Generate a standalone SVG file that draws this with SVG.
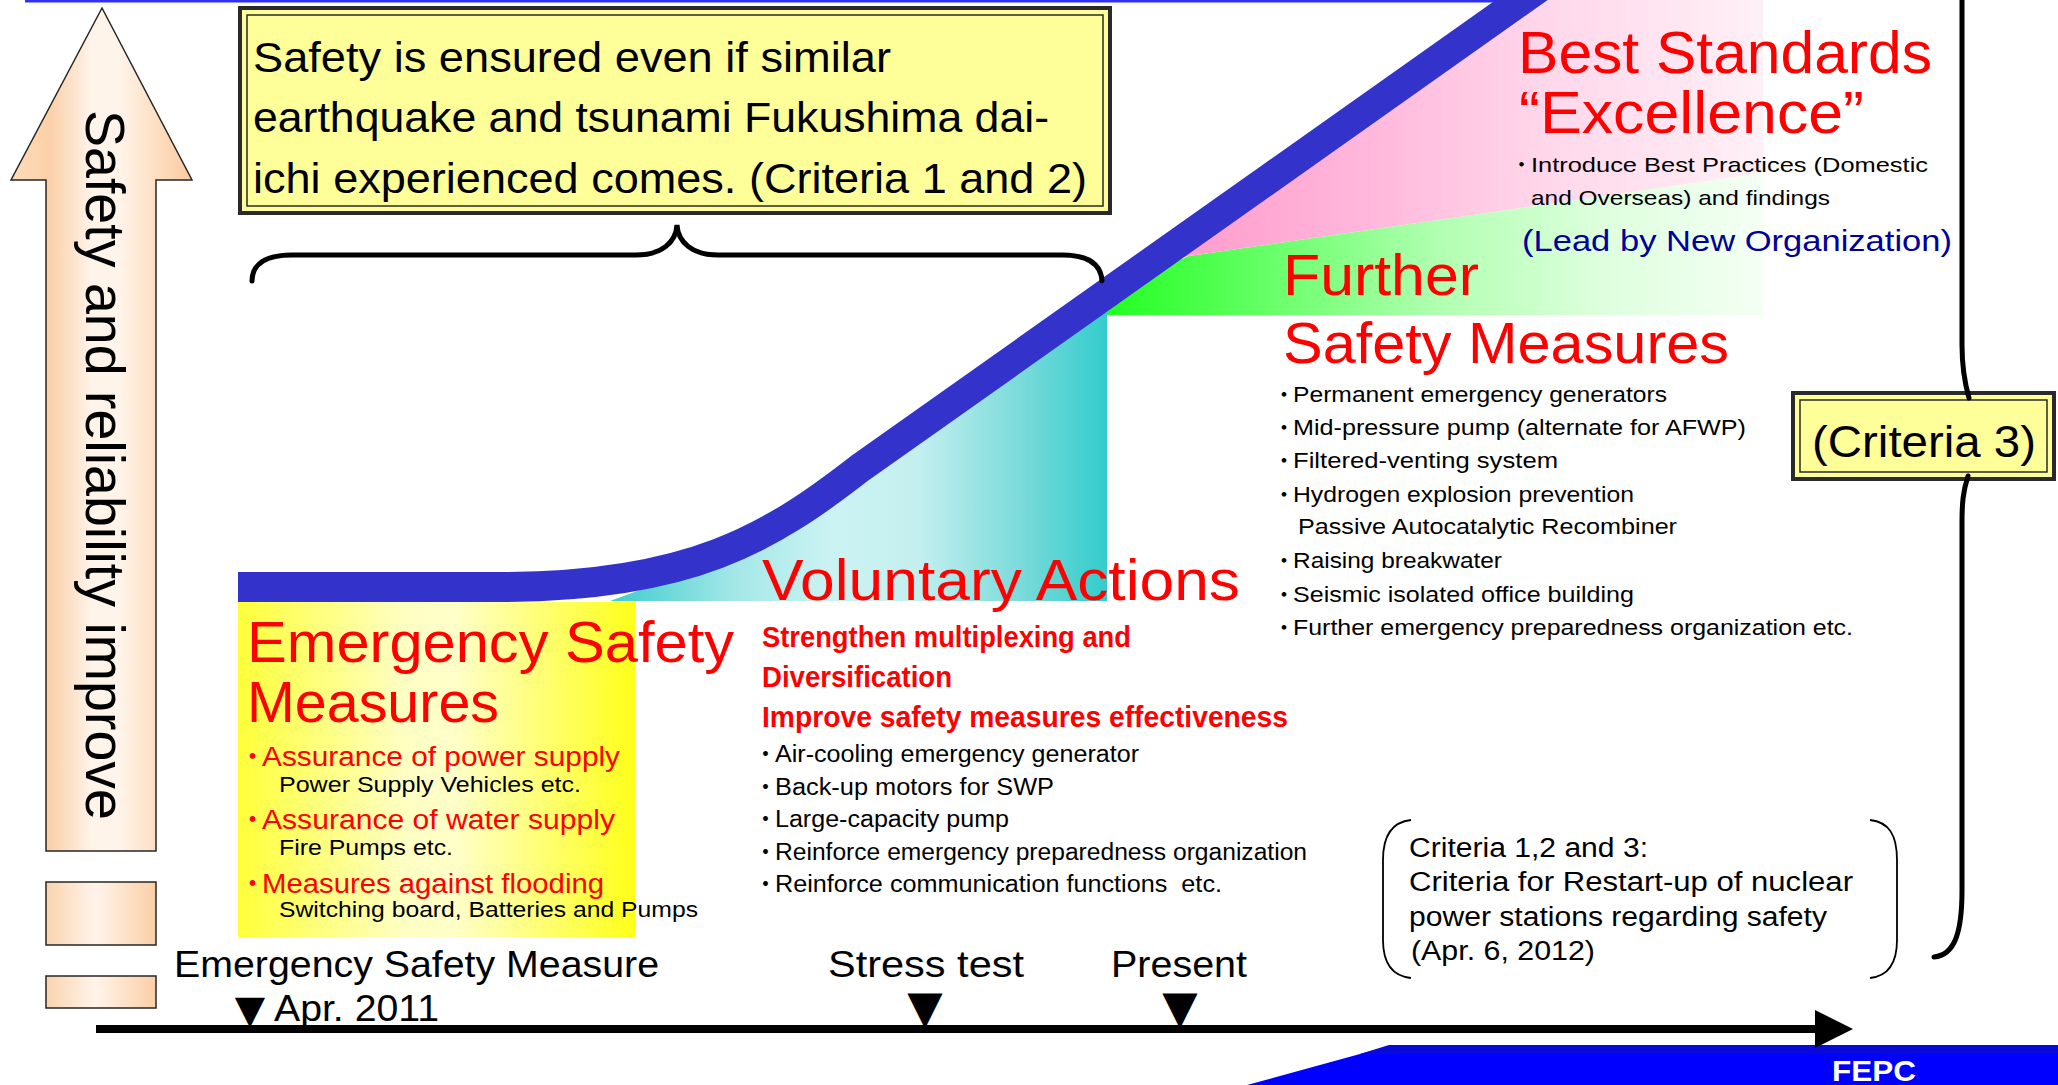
<svg xmlns="http://www.w3.org/2000/svg" width="2058" height="1085" viewBox="0 0 2058 1085">
<defs>
  <linearGradient id="gArrow" gradientUnits="userSpaceOnUse" x1="10" y1="0" x2="192" y2="0">
    <stop offset="0" stop-color="#FDDCBC"/>
    <stop offset="0.22" stop-color="#FBD0A8"/>
    <stop offset="0.45" stop-color="#FFF4EA"/>
    <stop offset="0.6" stop-color="#FFF4EA"/>
    <stop offset="0.88" stop-color="#FCD6B3"/>
    <stop offset="1" stop-color="#FBCB9F"/>
  </linearGradient>
  <linearGradient id="gRect" x1="0" y1="0" x2="1" y2="0">
    <stop offset="0" stop-color="#FBD3AE"/>
    <stop offset="0.45" stop-color="#FFF4EA"/>
    <stop offset="1" stop-color="#FBCFA6"/>
  </linearGradient>
  <linearGradient id="gYellow" gradientUnits="userSpaceOnUse" x1="238" y1="0" x2="635" y2="0">
    <stop offset="0" stop-color="#FFFF3A"/>
    <stop offset="0.42" stop-color="#FFFFC4"/>
    <stop offset="0.55" stop-color="#FFFFC8"/>
    <stop offset="1" stop-color="#FFFF1A"/>
  </linearGradient>
  <linearGradient id="gCyan" gradientUnits="userSpaceOnUse" x1="610" y1="0" x2="1107" y2="0">
    <stop offset="0" stop-color="#3CCCCC"/>
    <stop offset="0.25" stop-color="#A4E7E7"/>
    <stop offset="0.45" stop-color="#CCF3F3"/>
    <stop offset="0.62" stop-color="#C4EFEF"/>
    <stop offset="0.85" stop-color="#72D8D8"/>
    <stop offset="1" stop-color="#33CCCC"/>
  </linearGradient>
  <linearGradient id="gGreen" gradientUnits="userSpaceOnUse" x1="1107" y1="0" x2="1763" y2="0">
    <stop offset="0" stop-color="#22FF22"/>
    <stop offset="0.3" stop-color="#77FF77"/>
    <stop offset="0.5" stop-color="#B0FFB0"/>
    <stop offset="0.75" stop-color="#DDFFDD"/>
    <stop offset="1" stop-color="#F5FFF5"/>
  </linearGradient>
  <linearGradient id="gPink" gradientUnits="userSpaceOnUse" x1="1160" y1="0" x2="1763" y2="0">
    <stop offset="0" stop-color="#FF99CC"/>
    <stop offset="0.35" stop-color="#FFB8DB"/>
    <stop offset="0.65" stop-color="#FFD8EB"/>
    <stop offset="1" stop-color="#FFF0F6"/>
  </linearGradient>
  <marker id="arrowHead" markerUnits="userSpaceOnUse" viewBox="0 0 38 38" markerWidth="38" markerHeight="38" refX="2" refY="19" orient="auto">
    <path d="M0,0 L38,19 L0,38 Z" fill="#000"/>
  </marker>
</defs>
<style>
  .f { font-family: "Liberation Sans", "Noto Sans CJK JP", sans-serif; }
  .tri { font-family: "DejaVu Sans", sans-serif; }
  .red { fill: #FF0000; }
  .blk { fill: #000000; }
  .navy { fill: #000099; }
  .boxOuter { fill: #FFFF99; stroke: #2A2A2A; stroke-width: 4; }
  .boxInner { fill: none; stroke: #2A2A2A; stroke-width: 1.5; }
  .brace { fill: none; stroke: #000; stroke-width: 5; stroke-linecap: round; }
  .bracket { fill: none; stroke: #000; stroke-width: 1.8; }
  .arrowShape { stroke: #262626; stroke-width: 1.5; }
</style>

<rect x="0" y="0" width="2058" height="1085" fill="#FFFFFF"/>

<!-- slide decorations -->
<rect x="25" y="0" width="1480" height="2.5" fill="#3030F0"/>
<g id="footer">
  <polygon points="1247,1085 1389,1046 2058,1046 2058,1085" fill="#0000FF"/>
  <polygon points="1360,1054 1389,1045 2058,1045 2058,1054" fill="#0A0AD8"/>
  <text class="f" x="1832" y="1081" font-size="30" font-weight="bold" fill="#FFFFFF" textLength="84" lengthAdjust="spacingAndGlyphs">FEPC</text>
</g>

<!-- region fills -->
<g id="regions">
  <polygon points="610,601 640,590 717,565 792,527 860,480 1107,305 1107,601" fill="url(#gCyan)"/>
  <polygon points="1107,290 1189,256 1763,173 1763,315 1107,315" fill="url(#gGreen)"/>
  <polygon points="1160,262 1540,-5 1763,-5 1763,173 1189,256" fill="url(#gPink)"/>
  <rect x="238" y="602" width="397" height="335" fill="url(#gYellow)"/>
</g>

<!-- rising safety band -->
<g id="band">
  <path d="M238,587 L500,587 C690,587 770,538 860,468 L1550,-20" fill="none" stroke="#3333CC" stroke-width="30"/>
</g>

<!-- left arrow -->
<g id="safety-arrow">
  <path class="arrowShape" d="M102,8 L192,180 L156,180 L156,851 L46,851 L46,180 L11,180 Z" fill="url(#gArrow)"/>
  <rect class="arrowShape" x="46" y="882" width="110" height="63" fill="url(#gRect)"/>
  <rect class="arrowShape" x="46" y="976" width="110" height="32" fill="url(#gRect)"/>
  <text class="f blk" font-size="56" transform="translate(86,110) rotate(90)" textLength="710" lengthAdjust="spacingAndGlyphs">Safety and reliability improve</text>
</g>

<!-- callout box criteria 1 and 2 -->
<g id="criteria12-box">
  <rect class="boxOuter" x="240" y="8" width="870" height="205"/>
  <rect class="boxInner" x="247" y="15" width="856" height="191"/>
  <text class="f blk" font-size="42" x="253" y="72" textLength="638" lengthAdjust="spacingAndGlyphs">Safety is ensured even if similar</text>
  <text class="f blk" font-size="42" x="253" y="132" textLength="796" lengthAdjust="spacingAndGlyphs">earthquake and tsunami Fukushima dai-</text>
  <text class="f blk" font-size="42" x="253" y="193" textLength="834" lengthAdjust="spacingAndGlyphs">ichi experienced comes. (Criteria 1 and 2)</text>
</g>

<!-- criteria 3 box -->
<g id="criteria3-box">
  <rect class="boxOuter" x="1793" y="393" width="261" height="86"/>
  <rect class="boxInner" x="1800" y="400" width="247" height="72"/>
  <text class="f blk" font-size="44" x="1812" y="457" textLength="224" lengthAdjust="spacingAndGlyphs">(Criteria 3)</text>
</g>

<!-- connectors: braces, brackets, timeline -->
<g id="connectors">
  <path class="brace" d="M252,281 C252,264 266,255 292,255 L636,255 C662,255 676,242 677,225 C678,242 692,255 718,255 L1062,255 C1088,255 1101,264 1102,281"/>
  <path class="brace" d="M1962,-5 L1962,345 C1962,370 1965,384 1969,398"/>
  <path class="brace" d="M1968,476 C1963,492 1962,503 1962,522 L1962,890 C1962,932 1955,955 1934,957"/>
  <path class="bracket" d="M1411,820 C1392,822 1383,835 1383,860 L1383,940 C1383,963 1392,976 1411,978"/>
  <path class="bracket" d="M1870,820 C1889,822 1897,835 1897,860 L1897,940 C1897,963 1889,976 1870,978"/>
  <line x1="96" y1="1029" x2="1817" y2="1029" stroke="#000" stroke-width="8" marker-end="url(#arrowHead)"/>
</g>

<!-- Emergency safety measures -->
<g id="emergency">
  <text class="f red" font-size="58" x="247" y="662" textLength="487" lengthAdjust="spacingAndGlyphs">Emergency Safety</text>
  <text class="f red" font-size="58" x="247" y="722" textLength="252" lengthAdjust="spacingAndGlyphs">Measures</text>
  <text class="f red" font-size="27" y="766"><tspan x="239">・</tspan><tspan x="262" textLength="358" lengthAdjust="spacingAndGlyphs">Assurance of power supply</tspan></text>
  <text class="f blk" font-size="22" x="279" y="792" textLength="302" lengthAdjust="spacingAndGlyphs">Power Supply Vehicles etc.</text>
  <text class="f red" font-size="27" y="829"><tspan x="239">・</tspan><tspan x="262" textLength="353" lengthAdjust="spacingAndGlyphs">Assurance of water supply</tspan></text>
  <text class="f blk" font-size="22" x="279" y="855" textLength="174" lengthAdjust="spacingAndGlyphs">Fire Pumps etc.</text>
  <text class="f red" font-size="27" y="893"><tspan x="239">・</tspan><tspan x="262" textLength="342" lengthAdjust="spacingAndGlyphs">Measures against flooding</tspan></text>
  <text class="f blk" font-size="22" x="279" y="917" textLength="419" lengthAdjust="spacingAndGlyphs">Switching board, Batteries and Pumps</text>
</g>

<!-- Voluntary actions -->
<g id="voluntary">
  <text class="f red" font-size="58" x="762" y="600" textLength="478" lengthAdjust="spacingAndGlyphs">Voluntary Actions</text>
  <text class="f red" font-size="29" font-weight="bold" x="762" y="647" textLength="369" lengthAdjust="spacingAndGlyphs">Strengthen multiplexing and</text>
  <text class="f red" font-size="29" font-weight="bold" x="762" y="687" textLength="190" lengthAdjust="spacingAndGlyphs">Diversification</text>
  <text class="f red" font-size="29" font-weight="bold" x="762" y="727" textLength="526" lengthAdjust="spacingAndGlyphs">Improve safety measures effectiveness</text>
  <text class="f blk" font-size="23" y="762"><tspan x="754">・</tspan><tspan x="775" textLength="364" lengthAdjust="spacingAndGlyphs">Air-cooling emergency generator</tspan></text>
  <text class="f blk" font-size="23" y="795"><tspan x="754">・</tspan><tspan x="775" textLength="279" lengthAdjust="spacingAndGlyphs">Back-up motors for SWP</tspan></text>
  <text class="f blk" font-size="23" y="827"><tspan x="754">・</tspan><tspan x="775" textLength="234" lengthAdjust="spacingAndGlyphs">Large-capacity pump</tspan></text>
  <text class="f blk" font-size="23" y="860"><tspan x="754">・</tspan><tspan x="775" textLength="532" lengthAdjust="spacingAndGlyphs">Reinforce emergency preparedness organization</tspan></text>
  <text class="f blk" font-size="23" y="892"><tspan x="754">・</tspan><tspan x="775" textLength="447" lengthAdjust="spacingAndGlyphs">Reinforce communication functions&#160; etc.</tspan></text>
</g>

<!-- Further safety measures -->
<g id="further">
  <text class="f red" font-size="58" x="1283" y="295" textLength="196" lengthAdjust="spacingAndGlyphs">Further</text>
  <text class="f red" font-size="58" x="1283" y="363" textLength="446" lengthAdjust="spacingAndGlyphs">Safety Measures</text>
  <text class="f blk" font-size="22" y="402"><tspan x="1273">・</tspan><tspan x="1293" textLength="374" lengthAdjust="spacingAndGlyphs">Permanent emergency generators</tspan></text>
  <text class="f blk" font-size="22" y="435"><tspan x="1273">・</tspan><tspan x="1293" textLength="453" lengthAdjust="spacingAndGlyphs">Mid-pressure pump (alternate for AFWP)</tspan></text>
  <text class="f blk" font-size="22" y="468"><tspan x="1273">・</tspan><tspan x="1293" textLength="265" lengthAdjust="spacingAndGlyphs">Filtered-venting system</tspan></text>
  <text class="f blk" font-size="22" y="502"><tspan x="1273">・</tspan><tspan x="1293" textLength="341" lengthAdjust="spacingAndGlyphs">Hydrogen explosion prevention</tspan></text>
  <text class="f blk" font-size="22" x="1298" y="534" textLength="379" lengthAdjust="spacingAndGlyphs">Passive Autocatalytic Recombiner</text>
  <text class="f blk" font-size="22" y="568"><tspan x="1273">・</tspan><tspan x="1293" textLength="209" lengthAdjust="spacingAndGlyphs">Raising breakwater</tspan></text>
  <text class="f blk" font-size="22" y="602"><tspan x="1273">・</tspan><tspan x="1293" textLength="341" lengthAdjust="spacingAndGlyphs">Seismic isolated office building</tspan></text>
  <text class="f blk" font-size="22" y="635"><tspan x="1273">・</tspan><tspan x="1293" textLength="560" lengthAdjust="spacingAndGlyphs">Further emergency preparedness organization etc.</tspan></text>
</g>

<!-- Best standards -->
<g id="best-standards">
  <text class="f red" font-size="59" x="1518" y="73" textLength="414" lengthAdjust="spacingAndGlyphs">Best Standards</text>
  <text class="f red" font-size="59" x="1519" y="133" textLength="345" lengthAdjust="spacingAndGlyphs">“Excellence”</text>
  <text class="f blk" font-size="21" y="172"><tspan x="1511">・</tspan><tspan x="1531" textLength="397" lengthAdjust="spacingAndGlyphs">Introduce Best Practices (Domestic</tspan></text>
  <text class="f blk" font-size="21" x="1531" y="205" textLength="299" lengthAdjust="spacingAndGlyphs">and Overseas) and findings</text>
  <text class="f navy" font-size="30" x="1522" y="251" textLength="430" lengthAdjust="spacingAndGlyphs">(Lead by New Organization)</text>
</g>

<!-- restart criteria note -->
<g id="restart-criteria">
  <text class="f blk" font-size="27" x="1409" y="857" textLength="239" lengthAdjust="spacingAndGlyphs">Criteria 1,2 and 3:</text>
  <text class="f blk" font-size="27" x="1409" y="891" textLength="444" lengthAdjust="spacingAndGlyphs">Criteria for Restart-up of nuclear</text>
  <text class="f blk" font-size="27" x="1409" y="926" textLength="418" lengthAdjust="spacingAndGlyphs">power stations regarding safety</text>
  <text class="f blk" font-size="27" x="1411" y="960" textLength="184" lengthAdjust="spacingAndGlyphs">(Apr. 6, 2012)</text>
</g>

<!-- timeline labels -->
<g id="timeline-labels">
  <text class="f blk" font-size="36" x="174" y="977" textLength="485" lengthAdjust="spacingAndGlyphs">Emergency Safety Measure</text>
  <text class="f blk" font-size="36" y="1023"><tspan class="tri" x="250" text-anchor="middle" font-size="39.5">▼</tspan><tspan x="274" y="1021" textLength="165" lengthAdjust="spacingAndGlyphs">Apr. 2011</tspan></text>
  <text class="f blk" font-size="37" x="828" y="977" textLength="196" lengthAdjust="spacingAndGlyphs">Stress test</text>
  <text class="tri blk" font-size="46" x="925" y="1023" text-anchor="middle">▼</text>
  <text class="f blk" font-size="37" x="1111" y="977" textLength="136" lengthAdjust="spacingAndGlyphs">Present</text>
  <text class="tri blk" font-size="46" x="1180" y="1023" text-anchor="middle">▼</text>
</g>
</svg>
